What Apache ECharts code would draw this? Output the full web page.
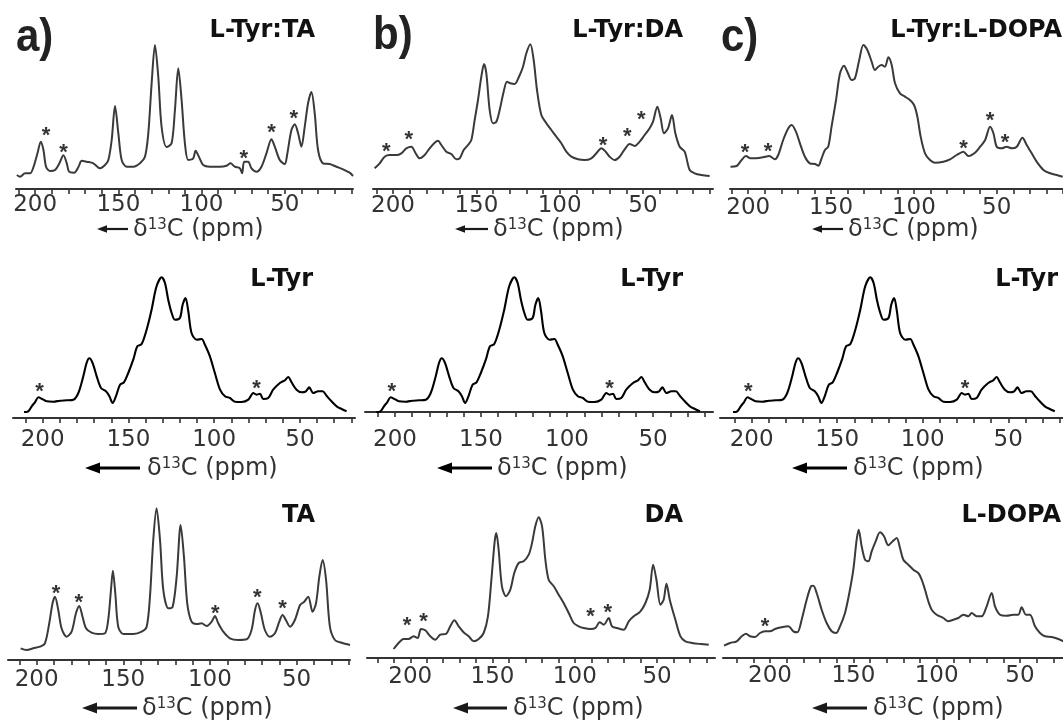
<!DOCTYPE html>
<html><head><meta charset="utf-8">
<script src="https://cdn.jsdelivr.net/npm/echarts@6/dist/echarts.min.js"></script>
<style>html,body{margin:0;padding:0;background:#fff}#c{width:1063px;height:723px}</style>
</head><body><div id="c"></div>
<script>
// ---- data: [ppm, intensity] ----
const tickLabels = [200, 150, 100, 50];

const specLTyrTA = [[211,14],[209,12.3],[206,15.7],[203,15.7],[201,22],[198.6,35.7],[196.6,47.3],[195,39],[193.4,22],[191,18],[188,19],[185.4,25.7],[183,33.7],[181,25.7],[179.6,17.3],[176.6,16.3],[174,22],[172,28.3],[169,27.3],[165,25.7],[161,20.7],[158,24],[156,29],[154,49],[152,83],[150,55.7],[148,29],[145,22.3],[141,22.3],[137,25.7],[134,32.3],[132,55.7],[130,105.7],[128,144],[126,112],[124,62],[121,42],[118,45.7],[116,79],[114,120.7],[112,89],[110,45.7],[108,29],[105,30.7],[103.6,38.3],[101.6,32.3],[99,24],[95,22.3],[89,22.3],[85,23.3],[82.6,25.7],[80,22.3],[77,20.7],[75.6,15.7],[74.4,27.3],[72,27.3],[70,20.7],[67,17.3],[64,22.3],[61,35.7],[58,49.7],[56,42.3],[53,29],[50,25],[48.6,34],[46,59],[44,64.7],[42,55.7],[40,42.3],[38,62.3],[36,85.7],[34,97],[32,75.7],[30,39],[27,25.7],[23,25],[19,22.3],[15,19.7],[11,16.3],[9,13]];
const starsLTyrTA = [[193.4,59],[183,42.3],[74.6,35.7],[58,62.3],[44.6,75.7]];

const specLTyr = [[210.9,6],[208.4,6.7],[206.4,11.7],[204.5,15.7],[202.5,20.7],[200.6,19.3],[197.7,16.7],[193.8,16.3],[189.9,17.3],[186,17.7],[182.1,18.3],[179.2,25],[176.3,41.7],[174.4,55],[172.8,59.7],[170.9,55],[168.5,41.7],[166,30],[163.1,26.7],[161.1,21.7],[159.2,15],[157.3,21.7],[154.9,33.3],[152.6,35.7],[150.1,45],[147.2,58.3],[144.8,71.7],[142.3,74],[139.4,88.3],[136.5,108.3],[133.6,131.7],[130.6,140.7],[128.7,135],[126.8,118.3],[124.8,105],[122.9,98.3],[120,100],[118.4,113.3],[116.7,120],[115.1,106.7],[113.2,85],[110.2,78.3],[107.3,79],[105.4,73.3],[102.5,61.7],[99.6,45],[96.6,28.3],[93.7,21.7],[90.8,20],[87.9,16.3],[84,16],[80.1,18.3],[77.2,25],[75.3,23.3],[73.3,24.3],[71.4,19],[68.5,20],[65.6,28.3],[61.7,35],[58.8,37.7],[56.8,41],[54.9,35.7],[52,28.3],[49,25.7],[46.5,26.7],[44.6,30.7],[42.3,25],[39.3,26.7],[36.8,26.7],[34.5,22.3],[31.6,16.7],[28.6,11.7],[25.7,9],[22.8,6.7]];
const starsLTyr = [[201.9,31.7],[75.3,35]];

const specTA = [[209.2,11.7],[205.8,10],[201.9,11.7],[198.1,13.3],[195.2,16.7],[192.7,36.7],[190.8,56.7],[189.4,63.3],[187.5,50],[185.6,31.7],[182.7,23.3],[179.8,28.3],[177.3,46.7],[175.4,54],[173.5,43.3],[171.5,31.7],[168.3,27.3],[164.4,26],[160.6,26.7],[158.7,40],[157.1,70],[156,89.3],[154.6,66.7],[152.9,33.3],[150,26],[144.2,26],[139.4,28.3],[136.5,33.3],[134.6,63.3],[132.7,120],[130.8,151.7],[128.8,120],[126.9,70],[124,51.7],[121.5,53.3],[119.2,83.3],[116.9,135],[115,103.3],[113.1,56.7],[110.6,38.3],[107.7,36],[104.8,36.7],[101.9,34],[99,38.3],[97.1,44],[95.2,36.7],[92.3,28.3],[88.5,21.7],[83.7,20],[78.8,20.7],[76,30],[74,50],[72.5,56.7],[70.6,46.7],[68.3,30],[65.4,23.3],[62.5,26.7],[60,38.3],[58.1,45],[56.2,40],[53.8,33.3],[51,40],[48,55],[45.6,58.3],[43.3,63.3],[40.8,48.3],[38.8,56.7],[36.9,83.3],[35,100],[33,80],[30.8,33.3],[27.9,20],[24,17.3],[19.2,15]];
const starsTA = [[188.8,71.7],[175.6,63.3],[96.9,51.7],[72.7,68.3],[58.1,56.7]];

const specLTyrDA = [[211,20.7],[208,25.7],[205,32.3],[202,34],[198,34],[195,35.7],[192,40.7],[189,42.3],[186.4,35.7],[184,30.7],[181,34],[178,40.7],[175,46.3],[173,48.3],[171,44],[168,37.3],[165,35],[162,29.7],[160,30.7],[157.6,39],[155,44],[153,49],[151,69],[149,89],[147,112.3],[145.4,125],[144,115.7],[142,79],[140,65.7],[138,67.3],[136,79],[133.6,97.3],[131.6,107.3],[129.6,105.7],[127,105],[124.4,112.3],[122,122.3],[120,135.7],[117.6,144.7],[115.6,129],[113.6,99],[111,74],[108,65.7],[105,59],[102,52.3],[99,45.7],[96,37.3],[93,32.3],[89,29.7],[85,29],[81,30.7],[78,35.7],[75,40.7],[72.4,37.3],[70,32.3],[67,29],[64,32.3],[61,39.7],[58,45],[55,43],[52,47.3],[49,54],[46,60.7],[44,67.3],[41.4,82.3],[39.4,70.7],[37.4,55.7],[35,60.7],[32.6,74],[30.6,55.7],[28,42.3],[25,37.3],[22,19],[19,15.7],[15,14],[10,13]];
const starsLTyrDA = [[204,43],[190.6,55],[74,49],[59.4,58],[51,74.7]];

const specDA = [[210.1,9],[207.1,15],[204.1,19],[201,19],[198,21.7],[195.5,20],[193.5,29],[190.9,27.7],[187.8,21.7],[184.8,18.3],[181.8,23.3],[178.1,24.3],[175.7,31.7],[173.2,37.7],[170.6,31.7],[167.6,25.7],[164.5,21.7],[161.5,16.7],[158.4,19],[155.4,25],[152.8,41.7],[150.7,78.3],[148.7,116.7],[147.7,125],[146.3,108.3],[144.3,71.7],[141.8,61.7],[139.2,68.3],[136.8,85],[134.1,95],[131.1,96.7],[128,103.3],[126,115],[124,131.7],[122,140.7],[119.9,131.7],[117.9,98.3],[115.9,78.3],[112.8,71.7],[109.8,63.3],[106.8,55],[103.7,45],[100.7,35],[97.6,31.7],[94.6,30],[90.5,29],[87.5,30],[84.9,35.7],[82.4,33.3],[79.4,40],[77.4,31.7],[74.3,30],[70.3,28.3],[67.2,36.7],[64.2,41.7],[60.1,46.7],[57.1,55],[54.5,68.3],[52.4,93.3],[50.4,78.3],[48,53.3],[46,58.3],[44.3,74.3],[42.3,58.3],[38.9,38.3],[35.8,21.7],[32.8,16.7],[28.7,15],[23.6,14],[18.6,13.3]];
const starsDA = [[202,38.3],[191.9,41.7],[90.5,46.7],[80,50.7]];

const specLTyrLDOPA = [[210.7,22.3],[207,23],[204,29],[201.4,33],[198.6,30.7],[195,30.7],[191,31.7],[187.3,33],[183.9,29.7],[181.9,34],[178.9,49],[175.8,60.7],[173.8,64],[171.2,57.3],[168.8,45.7],[165.8,32.3],[162.8,25.7],[159.7,25],[157.7,23.3],[155.7,30.7],[153.7,39],[151.7,42.3],[149.7,62.3],[147,89],[144.6,115.7],[142.2,123.3],[140.2,117.3],[137.6,109],[135.6,110.7],[133,129],[130.5,144],[128.1,139],[125.5,127.3],[123.5,119],[121.5,122.3],[119.5,124],[117.5,122.3],[115.4,131.7],[113.4,124],[111.4,105.7],[108.4,95.7],[105.4,92.3],[102.4,89],[99.9,84],[97.9,72.3],[95.9,52.3],[93.3,35.7],[90.3,29],[87.3,26.3],[82.2,27.3],[78.2,29.7],[74.2,34],[70.1,37.3],[67.1,33],[63.1,36.3],[60,42.3],[57,49],[54,62.3],[52,55.7],[50,42.3],[47,40.7],[44,42.3],[40.9,40.7],[37.9,42.3],[34.5,51.3],[31.9,44],[28.9,35.7],[25.9,27.3],[21.8,19],[17.8,15.7],[13.8,14],[10.2,12.3]];
const starsLTyrLDOPA = [[202,42.3],[188,43.3],[70.1,45.7],[54,74],[45,52.3]];

const specLDOPA = [[227.6,12.3],[224,15],[220,16.7],[217,21.7],[214.4,24.3],[212,21.7],[209,21],[206,25],[203,26.7],[200,26.7],[197,29],[193,30.7],[189,31.7],[186,26.7],[183.6,25.7],[181,38.3],[178,58.3],[175.4,71.7],[174,72.3],[172,65],[169,48.3],[166,35],[163,26.7],[160.4,25],[158,31.7],[155,45],[152.4,65],[150,88.3],[148,118.3],[146.8,128.3],[145,111.7],[143,98.3],[141,96.7],[139,106.7],[136.6,116.7],[134,125.7],[131.6,121.7],[129,112.7],[126.4,116.7],[124,120],[122,110],[120,98.3],[117,93.3],[114,88.3],[111,85],[109,78.3],[107,68.3],[105,56.7],[103,48.3],[100,43.3],[96,40],[93,36.7],[90,38.3],[87,40],[84,43.3],[81,41.7],[79,45],[76,41.7],[73,41.7],[70,51.7],[67,65],[65,51.7],[62,43.3],[58,42.3],[54,43.3],[51,43.3],[49,50.7],[46.4,43.3],[44,43.3],[41,31.7],[38,25],[35,21.7],[31,21],[27,19],[24,16.7]];
const starsLDOPA = [[203,36.7]];

const panelTitles = ['L-Tyr:TA','L-Tyr','TA','L-Tyr:DA','L-Tyr','DA','L-Tyr:L-DOPA','L-Tyr','L-DOPA'];
const panelLetters = ['a)','b)','c)'];

// ---- layout ----
const H = 175;
const panels = [
 {data:specLTyrTA, stars:starsLTyrTA, xl:16, xr:353, max:211.5, min:9, axisY:189, ymin:0, t0:10, t1:210, lab:205, mid:false, tx:315, ty:31, ar:[97,128,229], tl:133},
 {data:specLTyr, stars:starsLTyr, xl:13, xr:355, max:217.3, min:17.9, axisY:418, ymin:0, t0:20, t1:210, lab:440, mid:true, tx:313, ty:280, ar:[85,140,468], tl:147},
 {data:specTA, stars:starsTA, xl:8, xr:350, max:216.5, min:19.2, axisY:660, ymin:0, t0:20, t1:210, lab:680, mid:false, tx:315, ty:516, ar:[82,137,708], tl:142},
 {data:specLTyrDA, stars:starsLTyrDA, xl:373, xr:713, max:212, min:8, axisY:189, ymin:0, t0:10, t1:210, lab:206.5, mid:false, tx:683, ty:31, ar:[455,488,229], tl:493},
 {data:specLTyr, stars:starsLTyr, xl:365, xr:713, max:217.4, min:15.2, axisY:412, ymin:6, t0:20, t1:210, lab:440.5, mid:true, tx:683, ty:280, ar:[437,492,468], tl:497},
 {data:specDA, stars:starsDA, xl:367, xr:715, max:226.3, min:14.8, axisY:658, ymin:0, t0:20, t1:220, lab:677, mid:false, tx:683, ty:516, ar:[453,507,708], tl:513},
 {data:specLTyrLDOPA, stars:starsLTyrLDOPA, xl:730, xr:1063, max:211, min:10, axisY:189, ymin:0, t0:10, t1:210, lab:208, mid:false, tx:1062, ty:31, ar:[812,843,229], tl:848},
 {data:specLTyr, stars:starsLTyr, xl:720, xr:1063, max:218.5, min:18, axisY:418, ymin:0, t0:20, t1:210, lab:440.5, mid:true, tx:1058, ty:280, ar:[792,847,468], tl:853},
 {data:specLDOPA, stars:starsLDOPA, xl:723, xr:1063, max:228.2, min:24.2, axisY:658, ymin:0, t0:30, t1:220, lab:676, mid:false, tx:1061, ty:516, ar:[812,867,708], tl:873}
];
const letterPos = [[16,38.5],[373,36],[721,38]];

const FONT = '"DejaVu Sans", "Liberation Sans", Arial, sans-serif';
const grids = [], xAxes = [], yAxes = [], series = [], graphics = [];
panels.forEach((p, i) => {
  grids.push({left: p.xl, width: p.xr - p.xl, top: p.axisY - H, height: H, containLabel: false});
  const ticks = [];
  for (let v = p.t0; v <= p.t1; v += 10) ticks.push(v);
  xAxes.push({
    type: 'value', gridIndex: i, inverse: true, min: p.min, max: p.max, position: 'bottom',
    axisLine: {show: true, onZero: false, lineStyle: {color: '#333', width: 2}},
    axisTick: {show: true, customValues: ticks, length: 5, lineStyle: {color: '#333', width: 1.6}},
    axisLabel: {show: true, customValues: tickLabels, margin: p.lab - p.axisY - 11.5, color: '#333',
      fontSize: 23, fontFamily: FONT, hideOverlap: false},
    splitLine: {show: false}
  });
  yAxes.push({type: 'value', gridIndex: i, min: p.ymin, max: p.ymin + H, show: false});
  series.push({
    type: 'line', xAxisIndex: i, yAxisIndex: i, data: p.data, showSymbol: false, smooth: 0.3,
    lineStyle: {color: p.mid ? '#000' : '#3a3a3a', width: p.mid ? 2.1 : 2}, silent: true, animation: false
  });
  series.push({
    type: 'scatter', xAxisIndex: i, yAxisIndex: i, data: p.stars, symbolSize: 2,
    itemStyle: {color: 'rgba(255,255,255,0)'}, silent: true, animation: false,
    label: {show: true, formatter: '*', position: 'inside', offset: [0, 6], fontSize: 22,
      fontWeight: 'bold', color: '#000', fontFamily: '"Liberation Sans", Arial, sans-serif'}
  });
  // title
  graphics.push({type: 'text', x: p.tx, y: p.ty, silent: true,
    style: {text: panelTitles[i], font: 'bold 24px ' + FONT, fill: '#111',
      align: 'right', verticalAlign: 'middle', textAlign: 'right', textVerticalAlign: 'middle'}});
  // arrow
  const [x1, x2, y] = p.ar;
  const big = p.mid || i % 3 === 2;
  const hl = big ? 15 : 10, hh = big ? 5.5 : 3.8, lw = big ? 2.8 : 2.2;
  const ac = p.mid ? '#000' : '#1a1a1a';
  graphics.push({type: 'polygon', silent: true, shape: {points: [[x1, y], [x1 + hl, y - hh], [x1 + hl, y + hh]]}, style: {fill: ac}});
  graphics.push({type: 'line', silent: true, shape: {x1: x1 + hl - 1, y1: y, x2: x2, y2: y}, style: {stroke: ac, lineWidth: lw}});
  // axis name
  graphics.push({type: 'text', x: p.tl, y: y + 1, silent: true,
    style: {text: 'δ{s|13}C (ppm)', font: '24px ' + FONT, fill: '#333',
      align: 'left', verticalAlign: 'middle', textAlign: 'left', textVerticalAlign: 'middle',
      rich: {s: {fontSize: 15, fontFamily: FONT, fill: '#333', verticalAlign: 'top', lineHeight: 15}}}});
});
panelLetters.forEach((t, k) => {
  graphics.push({type: 'text', x: letterPos[k][0], y: letterPos[k][1], scaleY: 1.12, silent: true,
    style: {text: t, font: 'bold 42px "Liberation Sans", Arial, sans-serif', fill: '#222',
      align: 'left', verticalAlign: 'middle', textAlign: 'left', textVerticalAlign: 'middle'}});
});

const chart = echarts.init(document.getElementById('c'));
chart.setOption({
  animation: false, backgroundColor: '#fff',
  grid: grids, xAxis: xAxes, yAxis: yAxes, series: series, graphic: graphics
});
</script></body></html>
